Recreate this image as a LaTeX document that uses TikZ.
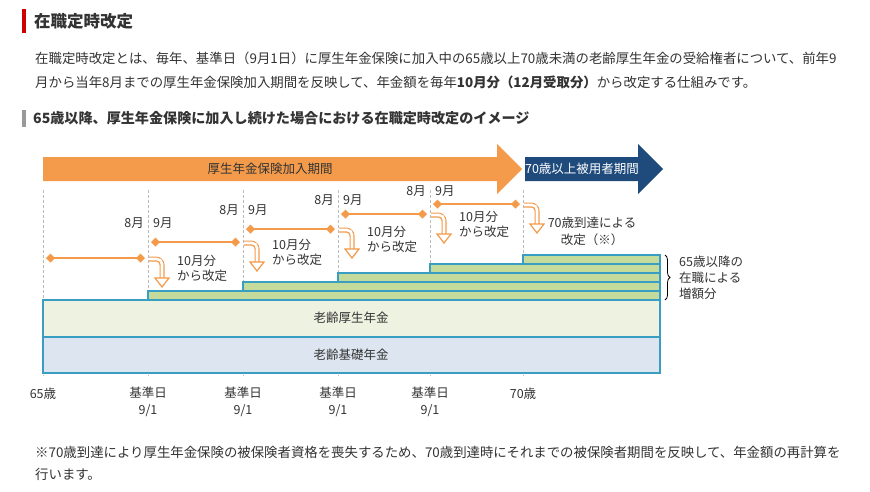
\documentclass[tikz,border=0pt]{standalone}
\usepackage{fontspec}
\setmainfont{Noto Sans CJK JP}
\usetikzlibrary{arrows.meta,decorations.pathreplacing}
\definecolor{org}{HTML}{F39A4B}
\definecolor{navy}{HTML}{1F4A7C}
\definecolor{teal}{HTML}{3A9DC2}
\definecolor{grn}{HTML}{C5DB9C}
\definecolor{kos}{HTML}{EEF2E1}
\definecolor{kis}{HTML}{DDE6F0}
\definecolor{txt}{HTML}{333333}
\definecolor{dashc}{HTML}{BBBBBB}
\begin{document}
\begin{tikzpicture}[x=1pt,y=-1pt,
  txt/.style={text=txt,inner sep=0pt},
  body/.style={txt,anchor=west,font=\fontsize{13.4}{15}\selectfont},
  lab/.style={txt,font=\fontsize{12.5}{14}\selectfont},
  span/.style={org,line width=1.8pt,{Diamond[length=9pt,width=9pt]}-{Diamond[length=9pt,width=9pt]}},
  stripe/.style={fill=grn,draw=teal,line width=1.3pt},
  vline/.style={dashc,densely dashed,line width=0.6pt}]
\useasboundingbox (0,0) rectangle (870,491);
\fill[white] (0,0) rectangle (870,491);
% title
\fill[red!80!black] (22,9) rectangle (26,33);
\node[txt,anchor=west,font=\fontsize{16.5}{18}\bfseries\selectfont] (title) at (34,21) {在職定時改定};
\node[body] (p1) at (35,58) {在職定時改定とは、毎年、基準日（9月1日）に厚生年金保険に加入中の65歳以上70歳未満の老齢厚生年金の受給権者について、前年9};
\node[body] (p2) at (35,82) {月から当年8月までの厚生年金保険加入期間を反映して、年金額を毎年\textbf{10月分（12月受取分）}から改定する仕組みです。};
\fill[gray!80] (22,110) rectangle (26,127);
\node[txt,anchor=west,font=\fontsize{14.1}{16}\bfseries\selectfont] (sub) at (33,118) {65歳以降、厚生年金保険に加入し続けた場合における在職定時改定のイメージ};
% big arrows
\fill[org] (43,157) -- (497,157) -- (497,144) -- (522,169) -- (497,194) -- (497,181) -- (43,181) -- cycle;
\node[text=txt,font=\fontsize{12.5}{14}\selectfont] (a1) at (270,169) {厚生年金保険加入期間};
\fill[navy] (525,157) -- (638,157) -- (638,144) -- (663,169) -- (638,194) -- (638,181) -- (525,181) -- cycle;
\node[text=white,font=\fontsize{12.5}{14}\selectfont] (a2) at (582,169) {70歳以上被用者期間};
% dashed lines
\foreach \x in {43,148,243,338,430,523} \draw[vline] (\x,190) -- (\x,376);
% bars
\draw[stripe] (523,255) rectangle (660,264);
\draw[stripe] (430,264) rectangle (660,273);
\draw[stripe] (338,273) rectangle (660,282);
\draw[stripe] (243,282) rectangle (660,291);
\draw[stripe] (148,291) rectangle (660,300);
\draw[fill=kos,draw=teal,line width=1.3pt] (43,300) rectangle (660,337);
\node[lab] (kosei) at (351,318) {老齢厚生年金};
\draw[fill=kis,draw=teal,line width=1.3pt] (43,337) rectangle (660,373);
\node[lab] (kiso) at (351,355) {老齢基礎年金};
% spans
\coordinate (s0a) at (46,258); \coordinate (s0b) at (145,258);
\draw[span] (s0a) -- (s0b);
\coordinate (s1a) at (151,242); \coordinate (s1b) at (240,242);
\draw[span] (s1a) -- (s1b);
\coordinate (s2a) at (246,229); \coordinate (s2b) at (335,229);
\draw[span] (s2a) -- (s2b);
\coordinate (s3a) at (341,214); \coordinate (s3b) at (427,214);
\draw[span] (s3a) -- (s3b);
\coordinate (s4a) at (433,204); \coordinate (s4b) at (520,204);
\draw[span] (s4a) -- (s4b);
% month labels
\foreach \x/\y in {148/223,243/210,338/200,430/191}{
  \node[lab,anchor=east] at (\x-4,\y) {8月};
  \node[lab,anchor=west] at (\x+5,\y) {9月};
}
% hollow arrows
\foreach \x/\y in {148/258,243/242,338/229,430/214,523/204}{
  \draw[org,line width=5pt,rounded corners=6pt] (\x+1,\y+1) -- (\x+14,\y+1) -- (\x+14,\y+20);
  \draw[white,line width=2.6pt,rounded corners=5pt] (\x+1,\y+1) -- (\x+14,\y+1) -- (\x+14,\y+21);
  \draw[org,fill=white,line width=1.2pt] (\x+7,\y+20) -- (\x+21,\y+20) -- (\x+14,\y+29) -- cycle;
}
\foreach \x/\y in {148/258,243/242,338/229,430/214}{
  \node[lab,align=left,anchor=north west,font=\fontsize{12.5}{15}\selectfont] at (\x+29,\y-3) {10月分\\から改定};
}
\node[lab,align=center,font=\fontsize{12.5}{17}\selectfont] (r70) at (592,231) {70歳到達による\\改定（※）};
% brace
\draw[txt,line width=0.8pt,decorate,decoration={brace,amplitude=5pt}] (665,255) -- (665,300);
\node[lab,align=left,anchor=west,font=\fontsize{12.5}{16}\selectfont] (inc) at (679,278) {65歳以降の\\在職による\\増額分};
% axis labels
\node[lab] (ax1) at (43,394) {65歳};
\foreach \x in {148,243,338,430}{
  \node[lab,align=center,font=\fontsize{12.5}{17}\selectfont] at (\x,402) {基準日\\9/1};
}
\node[lab] (ax2) at (523,394) {70歳};
% footnote
\node[body] (f1) at (35,452) {※70歳到達により厚生年金保険の被保険者資格を喪失するため、70歳到達時にそれまでの被保険者期間を反映して、年金額の再計算を};
\node[body] (f2) at (35,474) {行います。};
\end{tikzpicture}
\end{document}
